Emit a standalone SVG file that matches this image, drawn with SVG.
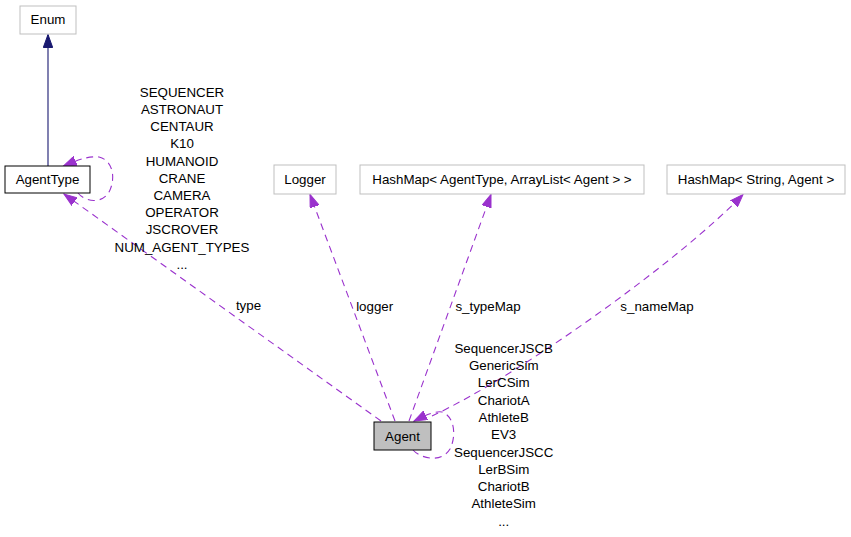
<svg xmlns="http://www.w3.org/2000/svg" width="851" height="537" viewBox="0 0 851 537">
<style>
text{font-family:"Liberation Sans",Arial,sans-serif;font-size:13.33px;fill:#000;text-anchor:middle}
.nb{fill:#fff;stroke:#bfbfbf;stroke-width:1}
.nk{fill:#fff;stroke:#000;stroke-width:1}
.na{fill:#bfbfbf;stroke:#000;stroke-width:1}
.e{fill:none;stroke:#9a32cd;stroke-width:1.1;stroke-dasharray:7,5}
.eb{fill:none;stroke:#191970;stroke-width:1.1}
</style>
<defs>
<marker id="ap" markerWidth="14" markerHeight="10" refX="13" refY="5" orient="auto" markerUnits="userSpaceOnUse">
<path d="M0,0.3 L13,5 L0,9.7 z" fill="#9a32cd" stroke="#9a32cd" stroke-dasharray="none"/>
</marker>
<marker id="ab" markerWidth="14" markerHeight="10" refX="13" refY="5" orient="auto" markerUnits="userSpaceOnUse">
<path d="M0,0.3 L13,5 L0,9.7 z" fill="#191970" stroke="#191970" stroke-dasharray="none"/>
</marker>
</defs>
<g id="connectors">
<path class="eb" d="M48,166 L48,34.5" marker-end="url(#ab)"/>
<path class="e" d="M78,193 C86,203 104,204 110,190 C116,176 112,160 99,157 C91,156 82,158 63.5,166" marker-end="url(#ap)"/>
<path class="e" d="M381,421 L64,194" marker-end="url(#ap)"/>
<path class="e" d="M395,421 L310,194.5" marker-end="url(#ap)"/>
<path class="e" d="M409,421 L491,194.5" marker-end="url(#ap)"/>
<path class="e" d="M432,416 C520,375 680,260 743,194.5" marker-end="url(#ap)"/>
<path class="e" d="M413,450 C420,458 441,464 450,449 C457,435 454,416 442,412 C436,411 428,414 414,421" marker-end="url(#ap)"/>
<text x="248.5" y="310">type</text>
<text x="374.7" y="311">logger</text>
<text x="488" y="311">s_typeMap</text>
<text x="657" y="311">s_nameMap</text>
<text x="182" y="96.7">SEQUENCER</text>
<text x="182" y="113.9">ASTRONAUT</text>
<text x="182" y="131.1">CENTAUR</text>
<text x="182" y="148.3">K10</text>
<text x="182" y="165.5">HUMANOID</text>
<text x="182" y="182.7">CRANE</text>
<text x="182" y="199.9">CAMERA</text>
<text x="182" y="217.1">OPERATOR</text>
<text x="182" y="234.3">JSCROVER</text>
<text x="182" y="251.5">NUM_AGENT_TYPES</text>
<text x="182" y="268.7">...</text>
<text x="503.7" y="352.7">SequencerJSCB</text>
<text x="503.7" y="370">GenericSim</text>
<text x="503.7" y="387.3">LerCSim</text>
<text x="503.7" y="404.6">ChariotA</text>
<text x="503.7" y="421.9">AthleteB</text>
<text x="503.7" y="439.2">EV3</text>
<text x="503.7" y="456.5">SequencerJSCC</text>
<text x="503.7" y="473.8">LerBSim</text>
<text x="503.7" y="491.1">ChariotB</text>
<text x="503.7" y="508.4">AthleteSim</text>
<text x="503.7" y="525.7">...</text>
</g>
<g id="Enum">
<rect class="nb" x="20" y="6" width="56" height="28"/>
<text x="48" y="24">Enum</text>
</g>
<g id="AgentType">
<rect class="nk" x="5" y="166" width="85" height="27"/>
<text x="47.5" y="184">AgentType</text>
</g>
<g id="Logger">
<rect class="nb" x="274" y="165" width="62" height="29"/>
<text x="305" y="184">Logger</text>
</g>
<g id="HashMapTypes">
<rect class="nb" x="360" y="165" width="284" height="29"/>
<text x="502" y="184">HashMap&lt; AgentType, ArrayList&lt; Agent &gt; &gt;</text>
</g>
<g id="HashMapNames">
<rect class="nb" x="667" y="165" width="178" height="29"/>
<text x="756" y="184">HashMap&lt; String, Agent &gt;</text>
</g>
<g id="Agent">
<rect class="na" x="374" y="422" width="57" height="28"/>
<text x="402.5" y="440.5">Agent</text>
</g>
</svg>
